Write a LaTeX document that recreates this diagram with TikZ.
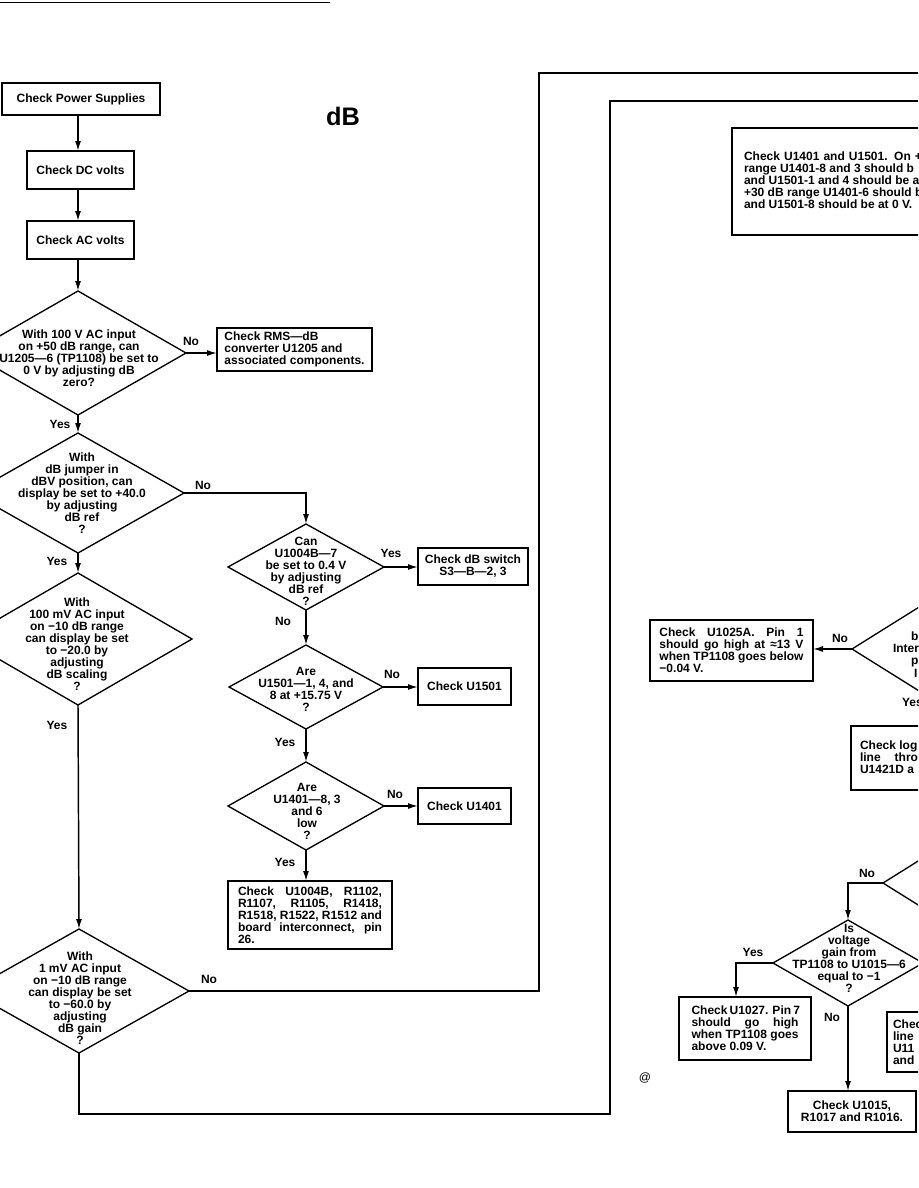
\documentclass[tikz,border=0pt]{standalone}
\usepackage{fontspec}
\setmainfont{Liberation Sans}
\usetikzlibrary{shapes.geometric,arrows.meta,calc}
\tikzset{
  every node/.style={font=\bfseries\fontsize{9}{9}\selectfont, inner sep=0pt, outer sep=0pt},
  bx/.style 2 args={draw, rectangle, line width=1pt, minimum width={#1*0.75pt}, minimum height={#2*0.75pt}},
  dia/.style 2 args={draw, diamond, line width=1pt, minimum width={2*#1*0.75pt}, minimum height={2*#2*0.75pt}},
  arr/.style={line width=1.1pt, -{Latex[length=7.5pt,width=4.5pt]}},
  conn/.style={line width=1.1pt},
  txt/.style={align=center},
  ltxt/.style={align=left, anchor=west},
  frag/.style={anchor=base west},
}
\begin{document}
\begin{tikzpicture}[x=0.75pt,y=-0.75pt]
\useasboundingbox (0,0) rectangle (918,1188);
\fill[white] (0,0) rectangle (918,1188);
\clip (0,0) rectangle (918,1188);

% page edge rule
\draw[line width=0.6pt] (0,2) -- (330,2);

\coordinate (colx) at (78,0);

% ---------- left column ----------
\node[bx={158}{32}] (ps) at (81,99) {Check Power Supplies};
\node[bx={107}{38}] (dc) at (80.5,170) {Check DC volts};
\node[bx={107}{38}] (ac) at (80.5,240) {Check AC volts};
\node[font=\bfseries\fontsize{19}{19}\selectfont] (title) at (343,116) {dB};

\node[dia={108}{62}] (d1) at (78,353) {};
\node[txt] (d1t) at (79,358) {With 100 V AC input\\on +50 dB range, can\\U1205—6 (TP1108) be set to\\0 V by adjusting dB\\zero?};
\node[bx={155}{43}, align=left] (rms) at (294.5,349.5) {Check RMS—dB\\converter U1205 and\\associated components.};

\node[dia={106}{60}] (d2) at (78,493) {};
\node[txt] (d2t) at (82,493) {With\\dB jumper in\\dBV position, can\\display be set to +40.0\\by adjusting\\dB ref\\?};

\node[dia={114}{66}] (d3) at (78,639) {};
\node[txt] (d3t) at (77,644) {With\\100 mV AC input\\on −10 dB range\\can display be set\\to −20.0 by\\adjusting\\dB scaling\\?};

\node[dia={110}{62}] (d6) at (79,991) {};
\node[txt] (d6t) at (80,998) {With\\1 mV AC input\\on −10 dB range\\can display be set\\to −60.0 by\\adjusting\\dB gain\\?};

% ---------- middle column ----------
\node[dia={78}{43}] (dcan) at (306,567) {};
\node[txt] (dcant) at (306,571) {Can\\U1004B—7\\be set to 0.4 V\\by adjusting\\dB ref\\?};
\node[bx={110}{37}, txt] (sw) at (473,566.5) {Check dB switch\\S3—B—2, 3};

\node[dia={77}{42}] (dare1) at (306,687) {};
\node[txt] (dare1t) at (306,689.5) {Are\\U1501—1, 4, and\\8 at +15.75 V\\?};
\node[bx={93}{37}] (u1501) at (464.5,686.5) {Check U1501};

\node[dia={78}{44}] (dare2) at (306,806) {};
\node[txt] (dare2t) at (307,811) {Are\\U1401—8, 3\\and 6\\low\\?};
\node[bx={93}{36}] (u1401) at (464.5,806) {Check U1401};

\node[bx={164}{68}, align=left] (fin) at (310,915) {\makebox[108pt][s]{Check U1004B, R1102,}\\\makebox[108pt][s]{R1107, R1105, R1418,}\\\makebox[108pt][s]{R1518, R1522, R1512 and}\\\makebox[108pt][s]{board interconnect, pin}\\26.};

% left/middle connectors
\draw[arr] (ps.south -| colx) -- (dc.north -| colx);
\draw[arr] (dc.south -| colx) -- (ac.north -| colx);
\draw[arr] (ac.south -| colx) -- (d1.north);
\draw[arr] (d1.east) -- (d1.east -| rms.west);
\node (l1) at (191,341) {No};
\draw[arr] (d1.south) -- (d2.north);
\node (l2) at (60,424) {Yes};
\draw[arr] (d2.east) -| (dcan.north);
\node (l3) at (203,485) {No};
\draw[arr] (d2.south) -- (d3.north);
\node (l4) at (57,561) {Yes};
\draw[arr] (dcan.east) -- (dcan.east -| sw.west);
\node (l5) at (391,553) {Yes};
\draw[arr] (dcan.south) -- (dare1.north);
\node (l6) at (283,621) {No};
\draw[arr] (dare1.east) -- (dare1.east -| u1501.west);
\node (l7) at (392,674) {No};
\draw[arr] (dare1.south) -- (dare2.north);
\node (l8) at (285,742) {Yes};
\draw[arr] (dare2.east) -- (dare2.east -| u1401.west);
\node (l9) at (395,794) {No};
\draw[arr] (dare2.south) -- (dare2.south |- fin.north);
\node (l10) at (285,862) {Yes};
\draw[arr] (d3.south) -- (d6.north);
\node (l11) at (57,725) {Yes};

% outline return paths
\coordinate (ob1) at (539,73);
\coordinate (oe1) at (918,73);
\draw[conn] (d6.east) -| (ob1) -- (oe1);
\node (l12) at (209,979) {No};
\coordinate (ob2) at (610,1114);
\coordinate (ob3) at (610,101);
\coordinate (oe2) at (918,101);
\draw[conn] (d6.south) |- (ob2) -- (ob3) -- (oe2);

% ---------- right column (cut by page edge) ----------
\node[bx={250}{107}, anchor=north west] (u14) at (732,128) {};
\node[ltxt] (u14t) at (744,180) {\makebox[133.5pt][s]{Check U1401 and U1501. On +}\\range U1401-8 and 3 should b\\and U1501-1 and 4 should be a\\+30 dB range U1401-6 should b\\and U1501-8 should be at 0 V.};

\node[dia={80}{50}] (r1) at (932,649) {};
\node[frag] (r1a) at (911,640) {b};
\node[frag] (r1b) at (893,652) {Inter};
\node[frag] (r1c) at (911,664) {p};
\node[frag] (r1d) at (914,677) {I};
\node[bx={163}{61}, align=left] (u1025) at (731.5,650.5) {\makebox[108pt][s]{Check U1025A. Pin 1}\\\makebox[108pt][s]{should go high at ≈13 V}\\when TP1108 goes below\\−0.04 V.};
\draw[arr] (r1.west) -- (r1.west -| u1025.east);
\node (l13) at (840,638) {No};
\node[frag] (l14) at (902,706) {Yes};

\node[bx={150}{64}, anchor=north west] (logb) at (851,726) {};
\node[ltxt] (logt) at (860,757) {Check log\\line\hspace{10.5pt}thro\\U1421D a};
\draw[arr] (r1.south) -- (r1.south |- logb.north);

\node[dia={80}{50}] (r2) at (963,883) {};
\node[dia={75}{43}] (d7) at (848,963) {};
\node[txt] (d7t) at (849,958) {Is\\voltage\\gain from\\TP1108 to U1015—6\\equal to −1\\?};
\draw[arr] (r2.west) -| (d7.north);
\node (l15) at (867,873) {No};

\node[bx={132}{63}, align=left] (u1027) at (745,1028.5) {\makebox[80.25pt][s]{Check U1027. Pin 7}\\\makebox[80.25pt][s]{should go high}\\\makebox[80.25pt][s]{when TP1108 goes}\\above 0.09 V.};
\draw[arr] (d7.west) -| ($(u1027.north)+(-9,0)$);
\node (l16) at (753,952) {Yes};

\node[bx={128}{41}, txt] (u1015) at (852,1111.5) {Check U1015,\\R1017 and R1016.};
\draw[arr] (d7.south) -- (d7.south |- u1015.north);
\node (l17) at (832,1017) {No};

\node[bx={100}{60}, anchor=north west] (cheb) at (887,1012) {};
\node[ltxt] (chet) at (893,1042.5) {Chec\\line\\U11\\and};

\node[font=\fontsize{9}{9}\selectfont] (atsign) at (645,1078) {@};
\end{tikzpicture}
\end{document}
